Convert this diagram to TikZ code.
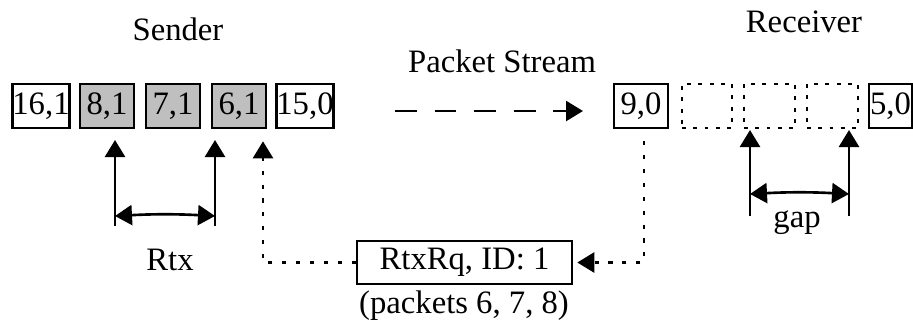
\documentclass[tikz,border=0pt]{standalone}
\usepackage{fontspec}
\setmainfont{Liberation Serif}
\usetikzlibrary{positioning, arrows.meta}

\begin{document}
\begin{tikzpicture}[x=0.02cm, y=-0.02cm,
	font=\fontsize{18.6}{21}\selectfont,
	pkt/.style={draw, line width=1.5pt, minimum width=1.08cm, minimum height=0.88cm, inner sep=0pt},
	lost/.style={pkt, fill=gray!50},
	hole/.style={draw, line width=1.6pt, dash pattern=on 2.2pt off 4.2pt, minimum height=0.88cm, inner sep=0pt},
	tip/.style={-{Triangle[length=0.34cm, width=0.4cm]}, line width=1.5pt},
	dbl/.style={{Triangle[length=0.34cm, width=0.4cm]}-{Triangle[length=0.34cm, width=0.4cm]}, line width=1.5pt},
	dots/.style={line width=1.8pt, dash pattern=on 2.3pt off 5.6pt}]
	\useasboundingbox (0,0) rectangle (913,322);

	% sender side
	\node[anchor=base] (snd) at (178,40) {Sender};
	\foreach \t/\x/\s [count=\i] in {{16,1}/41/pkt, {8,1}/107/lost, {7,1}/173/lost, {6,1}/239/lost, {15,0}/305/pkt} {
		\node[\s] (s\i) at (\x,106) {\t};
	};

	% receiver side
	\node[anchor=base] (rcv) at (804,32) {Receiver};
	\node[pkt] (r9) at (641,106) {9,0};
	\node[hole, minimum width=1.0cm] (h1) at (707,106) {};
	\node[hole, minimum width=1.02cm] (h2) at (769.5,106) {};
	\node[hole, minimum width=1.02cm] (h3) at (832.5,106) {};
	\node[pkt, minimum width=0.86cm] (r5) at (890.5,106) {5,0};

	% stream
	\node[anchor=base] (ps) at (502,72) {Packet Stream};
	\coordinate (ps-a) at (395,111);
	\coordinate (ps-b) at (583,111);
	\draw[tip, dash pattern=on 12.5pt off 10pt] (ps-a) -- (ps-b);

	% retransmitted range
	\coordinate (a1) at (115,226);
	\coordinate (a2) at (215,226);
	\draw[tip] (a1) -- ++(0,-86);
	\draw[tip] (a2) -- ++(0,-86);
	\draw[dbl] ([yshift=0.2cm]a1) to[bend left=3] ([yshift=0.2cm]a2);
	\node[anchor=base] (rtx) at (170,270) {Rtx};

	% missing range
	\coordinate (b1) at (750,216);
	\coordinate (b2) at (849,216);
	\draw[tip] (b1) -- ++(0,-86);
	\draw[tip] (b2) -- ++(0,-86);
	\draw[dbl] ([yshift=0.44cm]b1) to[bend left=3] ([yshift=0.44cm]b2);
	\node[anchor=base] (gap) at (797,227) {gap};

	% request
	\node[pkt, minimum width=4.3cm, minimum height=0.86cm] (rq) at (464.5,262.5) {RtxRq, ID: 1};
	\node[anchor=base] (ids) at (464,313) {(packets 6, 7, 8)};
	\draw[dots, tip, shorten <=0.24cm, shorten >=0.08cm] ([xshift=0.06cm]r9.south) |- (rq.east);
	\draw[dots, tip, shorten >=0.24cm] (rq.west) -| ([xshift=0.48cm]s4.south);
\end{tikzpicture}
\end{document}
